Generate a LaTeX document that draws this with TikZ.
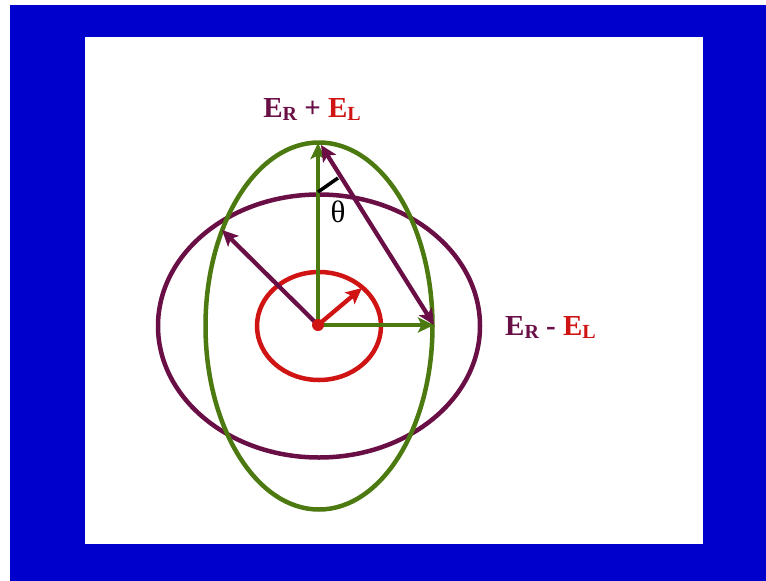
\documentclass[tikz,border=0pt]{standalone}
\usepackage{fontspec}
\setmainfont{Liberation Serif}
\usetikzlibrary{arrows.meta}
\definecolor{bgblue}{HTML}{0000CC}
\definecolor{egreen}{HTML}{4C7A10}
\definecolor{epurple}{HTML}{6A0F45}
\definecolor{ered}{HTML}{D01414}
\tikzset{
  curve/.style={line width=4.5pt},
  vec/.style={line width=4.3pt, -{Stealth[length=16pt,width=15pt,inset=3.5pt]}},
  dvec/.style={line width=4.3pt, {Stealth[length=16pt,width=15pt,inset=3.5pt]}-{Stealth[length=16pt,width=15pt,inset=3.5pt]}},
  lbl/.style={font=\fontsize{29}{32}\selectfont\bfseries, inner sep=0pt}
}
\newcommand{\subR}[1]{\raisebox{-3pt}{\fontsize{20}{20}\selectfont #1}}
\begin{document}
\begin{tikzpicture}[x=1pt,y=-1pt]
\useasboundingbox (0,0) rectangle (766,581);
\fill[white] (0,0) rectangle (766,581);
\fill[bgblue] (10,5) rectangle (766,581);
\fill[white] (85,37) rectangle (703,544);
\coordinate (O) at (319,326);
\coordinate (C) at (318,325);
% ellipses
\draw[curve, epurple] (O) ellipse [x radius=161, y radius=131.5];
\draw[curve, egreen] (O) ellipse [x radius=113.5, y radius=183.5];
\draw[curve, ered] (O) ellipse [x radius=62, y radius=54];
% vectors
\coordinate (T) at (318,143);
\coordinate (Rt) at (434,325);
\coordinate (Pl) at (222,230);
\coordinate (Rd) at (362,288);
\coordinate (Pt) at (321,145);
\draw[vec, egreen] (C) -- (T);
\draw[vec, egreen] (C) -- (Rt);
\draw[vec, epurple] (C) -- (Pl);
\draw[dvec, epurple] (Rt) -- (Pt);
\draw[vec, ered] (C) -- (Rd);
\fill[ered] (C) circle (6);
% angle mark
\coordinate (A1) at (318,192);
\coordinate (A2) at (338,178);
\draw[line width=3.5pt, black] (A1) -- (A2);
\node[inner sep=0pt, font=\fontsize{31}{33}\selectfont] (th) at (338,212) {θ};
% labels
\node[lbl, anchor=base] (top) at (312,117) {\textcolor{epurple}{E\subR{R}} \textcolor{epurple}{+} \textcolor{ered}{E\subR{L}}};
\node[lbl, anchor=base west] (side) at (505,335) {\textcolor{epurple}{E\subR{R}} \textcolor{epurple}{-} \textcolor{ered}{E\subR{L}}};
\end{tikzpicture}
\end{document}
